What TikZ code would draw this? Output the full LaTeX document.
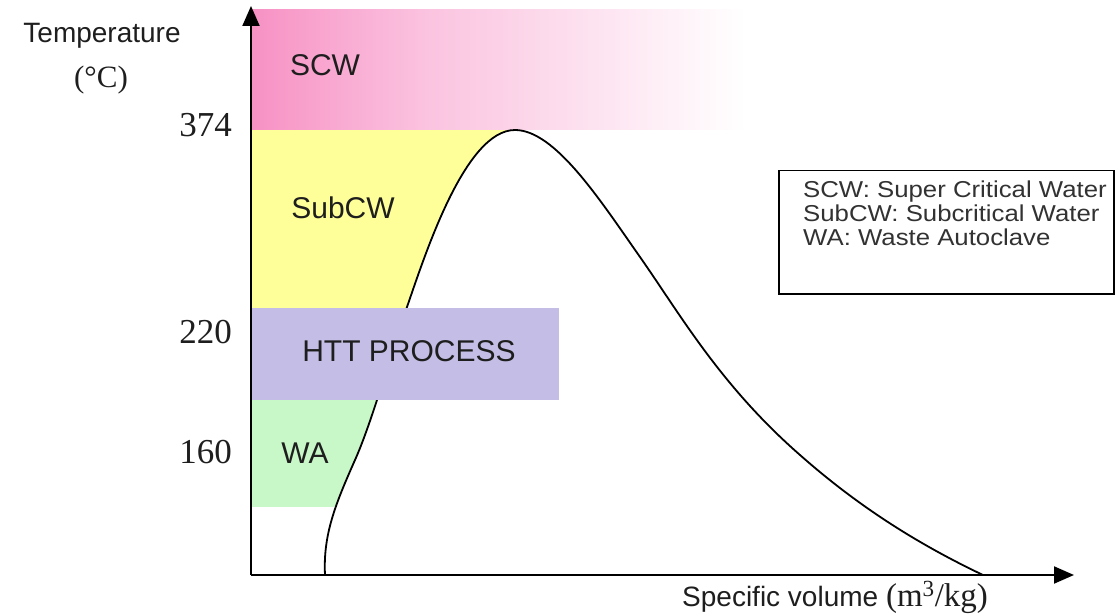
\documentclass[tikz,border=0pt]{standalone}
\usepackage{fontspec}
\setmainfont{Liberation Serif}
\setsansfont{Liberation Sans}
\usetikzlibrary{arrows.meta}
\definecolor{pinkL}{RGB}{247,145,196}
\definecolor{pinkM}{RGB}{251,196,224}
\definecolor{subyel}{RGB}{255,255,153}
\definecolor{lav}{RGB}{196,190,230}
\definecolor{wagreen}{RGB}{200,247,200}
\definecolor{legtxt}{RGB}{50,50,50}
\definecolor{labtxt}{RGB}{30,30,30}
\tikzset{
  axisline/.style={line width=2pt,-{Triangle[length=20pt,width=17pt]}},
  region/.style={font=\fontsize{30}{30}\selectfont\sffamily, text=labtxt},
  tick/.style={font=\fontsize{35}{35}\selectfont\rmfamily, text=labtxt, anchor=base east, inner sep=0pt},
  dome/.style={line width=1.8pt, black}
}
\newcommand\domecurve{(325,575) .. controls (323,535) and (335,505) .. (355,460) .. controls (372,422) and (392,350) .. (407,307) .. controls (425,255) and (465,130) .. (515,130) .. controls (555,130) and (600,200) .. (640,257) .. controls (680,314) and (720,385) .. (800,455) .. controls (860,508) and (920,545) .. (983,575)}
\begin{document}
\begin{tikzpicture}[x=1pt,y=-1pt]
\useasboundingbox (0,0) rectangle (1120,615);
% pink SCW band with fade
\shade[left color=pinkL, right color=pinkM] (251,10) rectangle (430,130);
\shade[left color=pinkM, right color=white] (430,10) rectangle (745,130);
% yellow and green areas
\fill[subyel] (251,130) rectangle (515,308);
\fill[wagreen] (251,400) rectangle (400,507);
% dome (saturation curve), white inside
\fill[white] \domecurve -- cycle;
\draw[dome] \domecurve;
% HTT process box on top
\node[fill=lav, anchor=north west, minimum width=308, minimum height=92, inner sep=0pt] (htt) at (251,308) {};
\node[region] (httl) at (409,351) {HTT PROCESS};
% region labels
\node[region] (scw) at (325,65) {SCW};
\node[region] (subcw) at (343,208) {SubCW};
\node[region] (wa) at (305,453) {WA};
% axes
\coordinate (O) at (251,575);
\coordinate (ytip) at (251,6);
\coordinate (xtip) at (1074,575);
\draw[axisline] (O) -- (ytip);
\draw[axisline] (O) -- (xtip);
% tick labels
\node[tick] (t374) at (232,137) {374};
\node[tick] (t220) at (232,343) {220};
\node[tick] (t160) at (232,463) {160};
% axis titles
\node[anchor=base, inner sep=0pt, text=labtxt, font=\fontsize{28}{28}\selectfont\sffamily] (ytitle) at (102,43) {Temperature};
\node[anchor=base, inner sep=0pt, text=labtxt, font=\fontsize{31}{31}\selectfont\rmfamily] (yunit) at (101,88) {(°C)};
\node[anchor=base west, inner sep=0pt, text=labtxt] (xtitle) at (682,606) {\fontsize{28}{28}\selectfont\sffamily Specific volume \fontsize{33}{33}\selectfont\rmfamily (m\textsuperscript{3}/kg)};
% legend
\node[draw, line width=1.5pt, anchor=north west, minimum width=335, minimum height=123, inner sep=0pt] (legend) at (778,170) {};
\node[anchor=north west, inner sep=0pt, align=left, text=legtxt, font=\fontsize{23}{24}\selectfont\sffamily] (legtext) at (803,181) {\scalebox{1.12}[1]{SCW: Super Critical Water}\\ \scalebox{1.12}[1]{SubCW: Subcritical Water}\\ \scalebox{1.12}[1]{WA: Waste Autoclave}};
\end{tikzpicture}
\end{document}
